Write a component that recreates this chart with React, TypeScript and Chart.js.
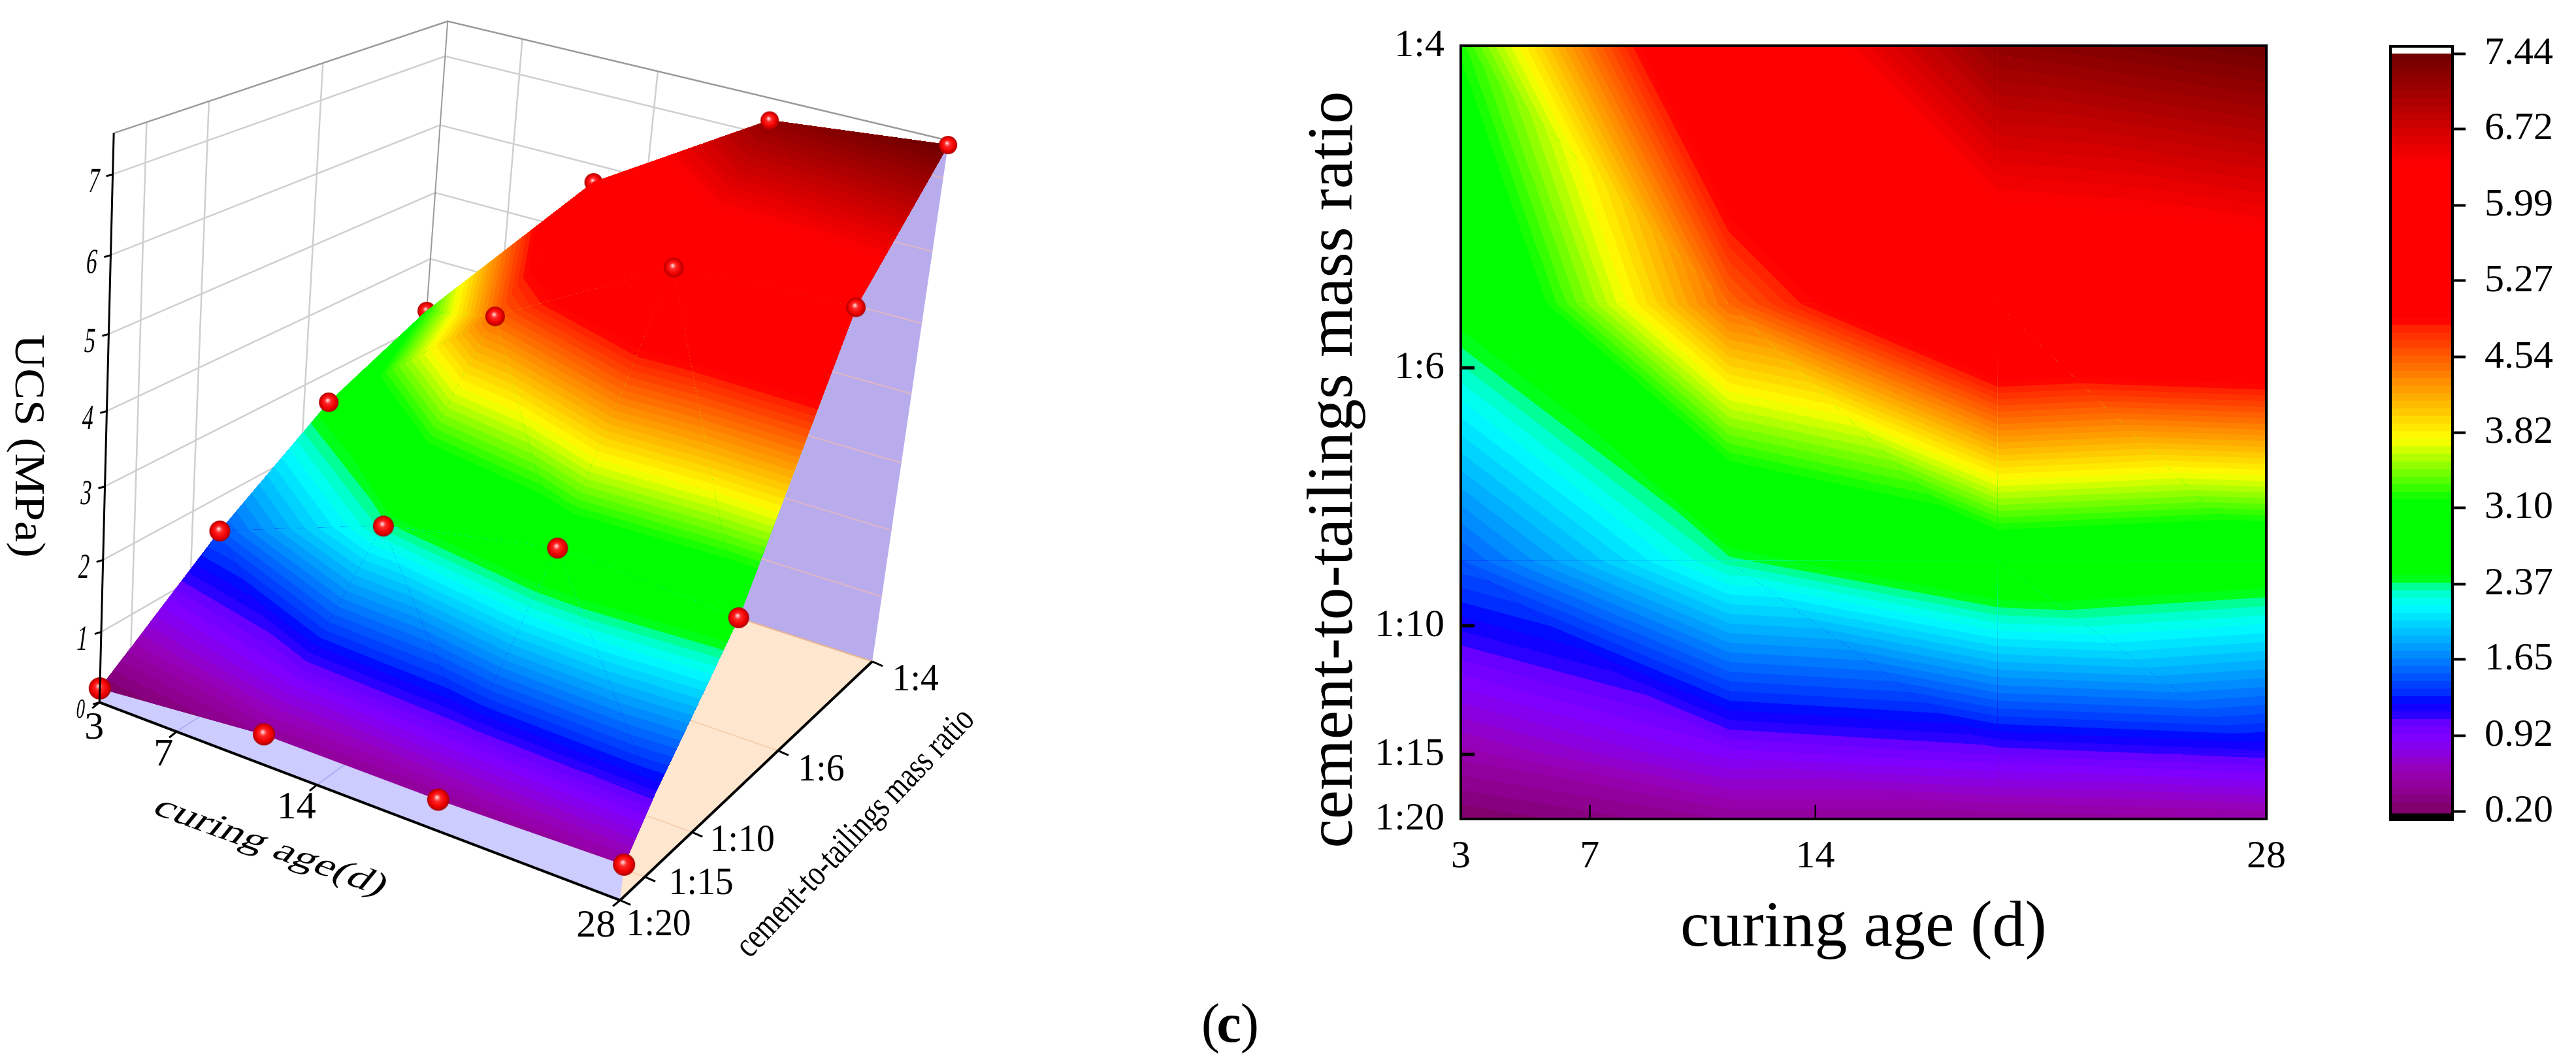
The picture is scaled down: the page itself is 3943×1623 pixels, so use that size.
import React, { useEffect, useRef } from "react";
import { Chart, registerables } from "chart.js";
Chart.register(...registerables);

const SERIF = "'Liberation Serif', serif";

// ---- data
const meshAges = [3, 11.33, 19.67, 28];
const meshRatios = [0.05, 0.0667, 0.1167, 0.1833, 0.25];
const ucs_1_20 = [0.2, 0.42, 0.42, 0.48];
const ucs_1_15 = [0.52, 0.88, 1.0, 1.1];
const ucs_r1 = [1.49, 2.33, 2.8, 2.66];
const ucs_r2 = [2.55, 4.48, 5.8, 5.92];
const ucs_1_4 = [3.2, 5.75, 7.2, 7.44];
const ucsRows = [ucs_1_20, ucs_1_15, ucs_r1, ucs_r2, ucs_1_4];
const markerRows = [0, 2, 3, 4];

const ageTicks = [3, 7, 14, 28];
const ageLabels = ["3", "7", "14", "28"];
const ratioTicks = [0.05, 0.0667, 0.1, 0.1667, 0.25];
const ratioLabels = ["1:20", "1:15", "1:10", "1:6", "1:4"];
const zTicks = [0, 1, 2, 3, 4, 5, 6, 7];
const barTicks = [0.2, 0.92, 1.65, 2.37, 3.1, 3.82, 4.54, 5.27, 5.99, 6.72, 7.44];

const LV0 = 0.2;
const LVSTEP = 0.0724;
const LVN = 100;
const colorStops: number[][] = [
  [0.2, 125, 0, 100], [0.36, 140, 0, 140], [0.56, 152, 0, 178], [0.88, 128, 0, 255], [1.06, 100, 0, 255],
  [1.08, 50, 0, 255], [1.23, 0, 0, 255], [1.3, 0, 40, 255], [1.65, 0, 130, 255], [2.15, 0, 255, 255],
  [2.28, 0, 255, 200], [2.36, 0, 255, 128], [2.42, 0, 255, 0], [3.15, 0, 255, 0], [3.75, 255, 255, 0],
  [4.3, 255, 140, 0], [4.82, 255, 30, 0], [4.88, 255, 0, 0], [6.36, 255, 0, 0], [7.44, 110, 0, 0],
];

function colorAt(v: number) {
  const s = colorStops;
  if (v <= s[0][0]) return `rgb(${s[0][1]},${s[0][2]},${s[0][3]})`;
  for (let i = 1; i < s.length; i++) {
    if (v <= s[i][0]) {
      const t = (v - s[i - 1][0]) / (s[i][0] - s[i - 1][0]);
      const c = [1, 2, 3].map((k) => Math.round(s[i - 1][k] + t * (s[i][k] - s[i - 1][k])));
      return `rgb(${c[0]},${c[1]},${c[2]})`;
    }
  }
  const l = s[s.length - 1];
  return `rgb(${l[1]},${l[2]},${l[3]})`;
}
const levelColor = (i: number) => colorAt(LV0 + (i + 0.5) * LVSTEP);

// ---- mesh triangles in data space, back rows first
type V = { a: number; r: number; z: number };
function meshTriangles(): V[][] {
  const out: V[][] = [];
  const P = (i: number, j: number): V => ({ a: meshAges[i], r: meshRatios[j], z: ucsRows[j][i] });
  for (let j = meshRatios.length - 2; j >= 0; j--) {
    for (let i = 0; i < meshAges.length - 1; i++) {
      out.push([P(i, j), P(i + 1, j), P(i, j + 1)]);
      out.push([P(i + 1, j), P(i + 1, j + 1), P(i, j + 1)]);
    }
  }
  return out;
}
function clipAbove(poly: V[], level: number): V[] {
  const out: V[] = [];
  for (let i = 0; i < poly.length; i++) {
    const p = poly[i];
    const q = poly[(i + 1) % poly.length];
    const pin = p.z >= level;
    const qin = q.z >= level;
    if (pin) out.push(p);
    if (pin !== qin) {
      const t = (level - p.z) / (q.z - p.z);
      out.push({ a: p.a + t * (q.a - p.a), r: p.r + t * (q.r - p.r), z: level });
    }
  }
  return out;
}
function paintBands(ctx: CanvasRenderingContext2D, map: (v: V) => number[]) {
  for (const tri of meshTriangles()) {
    const zs = tri.map((v) => v.z);
    const lo = Math.max(0, Math.floor((Math.min(...zs) - LV0) / LVSTEP));
    const hi = Math.min(LVN - 1, Math.floor((Math.max(...zs) - LV0) / LVSTEP));
    for (let i = lo; i <= hi; i++) {
      const poly = i === lo ? tri : clipAbove(tri, LV0 + i * LVSTEP);
      if (poly.length < 3) continue;
      ctx.beginPath();
      poly.forEach((v, k) => {
        const [x, y] = map(v);
        if (k === 0) ctx.moveTo(x, y);
        else ctx.lineTo(x, y);
      });
      ctx.closePath();
      const c = levelColor(i);
      ctx.fillStyle = c;
      ctx.strokeStyle = c;
      ctx.lineWidth = 1;
      ctx.fill();
      ctx.stroke();
    }
  }
}

// ---- 3D projection of the left panel
const ZMAX = 7.5;
const floorA = [148, 1077];
const floorB = [949, 1382];
const floorC = [1337, 1014];
const floorD = [629, 783];
const VP = [-96, 10790];
const VK = -0.0828;
const hom = (() => {
  const [x0, y0] = floorA, [x1, y1] = floorB, [x2, y2] = floorC, [x3, y3] = floorD;
  const dx1 = x1 - x2, dx2 = x3 - x2, sx = x0 - x1 + x2 - x3;
  const dy1 = y1 - y2, dy2 = y3 - y2, sy = y0 - y1 + y2 - y3;
  const den = dx1 * dy2 - dx2 * dy1;
  const g = (sx * dy2 - dx2 * sy) / den;
  const h = (dx1 * sy - sx * dy1) / den;
  return { a: x1 - x0 + g * x1, b: x3 - x0 + h * x3, c: x0, d: y1 - y0 + g * y1, e: y3 - y0 + h * y3, f: y0, g, h };
})();
function proj(u: number, v: number, z: number) {
  const t = (z / ZMAX) * VK;
  const X = hom.a * u + hom.b * v + hom.c + t * VP[0];
  const Y = hom.d * u + hom.e * v + hom.f + t * VP[1];
  const W = hom.g * u + hom.h * v + 1 + t;
  return [X / W, Y / W];
}
const uOf = (age: number) => (age - 3) / 25;
const vOf = (r: number) => (r - 0.05) / 0.2;
const markerPoints = (pick: (i: number, j: number) => boolean) => {
  const pts: { x: number; y: number; v: number }[] = [];
  markerRows.forEach((j) => {
    meshAges.forEach((a, i) => {
      if (!pick(i, j)) return;
      const v = vOf(meshRatios[j]);
      const [x, y] = proj(uOf(a), v, ucsRows[j][i]);
      pts.push({ x, y, v });
    });
  });
  return pts;
};

const sprites: Record<number, HTMLCanvasElement> = {};
function ball(r: number) {
  if (sprites[r]) return sprites[r];
  const c = document.createElement("canvas");
  c.width = c.height = r * 2 + 2;
  const g = c.getContext("2d")!;
  const m = r + 1;
  const gr = g.createRadialGradient(m - r * 0.12, m - r * 0.22, r * 0.04, m, m, r);
  gr.addColorStop(0, "#ffd8d8");
  gr.addColorStop(0.28, "#ff2a2a");
  gr.addColorStop(0.7, "#f00000");
  gr.addColorStop(1, "#a80000");
  g.fillStyle = gr;
  g.beginPath();
  g.arc(m, m, r, 0, Math.PI * 2);
  g.fill();
  sprites[r] = c;
  return c;
}

type TextOpt = { angle?: number; skew?: number; sx?: number; sy?: number; width?: number };
function drawText(ctx: CanvasRenderingContext2D, s: string, x: number, y: number, px: number, o: TextOpt = {}) {
  ctx.save();
  ctx.font = `${px}px ${SERIF}`;
  ctx.fillStyle = "#000";
  ctx.textAlign = "center";
  ctx.textBaseline = "middle";
  ctx.translate(x, y);
  ctx.rotate(((o.angle || 0) * Math.PI) / 180);
  ctx.transform(1, 0, o.skew || 0, 1, 0, 0);
  const sx = o.width ? o.width / ctx.measureText(s).width : o.sx || 1;
  ctx.scale(sx, o.sy || 1);
  ctx.fillText(s, 0, 0);
  ctx.restore();
}
function drawPanelTag(ctx: CanvasRenderingContext2D, x: number, y: number) {
  drawText(ctx, "(", x - 28, y, 85);
  ctx.save();
  ctx.font = `bold 85px ${SERIF}`;
  ctx.fillStyle = "#000";
  ctx.textAlign = "center";
  ctx.textBaseline = "middle";
  ctx.fillText("c", x, y);
  ctx.restore();
  drawText(ctx, ")", x + 32, y, 85);
}

const ageLabelOffsets = [[-8, 40], [-20, 36], [-31, 35], [-37, 40]];
const ratioLabelOffsets = [[59, 38], [86, 11], [77, 13], [66, 30], [66, 28]];

const surface3dPlugin = {
  id: "surface3d",
  beforeDatasetsDraw(chart: any) {
    const { ctx, scales } = chart;
    const px = (p: number[]) => [scales.x.getPixelForValue(p[0]), scales.y.getPixelForValue(p[1])];
    const P = (u: number, v: number, z: number) => px(proj(u, v, z));
    const path = (pts: number[][], close = false) => {
      ctx.beginPath();
      pts.forEach((p, i) => (i ? ctx.lineTo(p[0], p[1]) : ctx.moveTo(p[0], p[1])));
      if (close) ctx.closePath();
    };
    const seg = (a: number[], b: number[], col: string, lw: number) => {
      ctx.strokeStyle = col;
      ctx.lineWidth = lw;
      path([a, b]);
      ctx.stroke();
    };
    ctx.save();
    // walls
    const gridCol = "#cfcfcf";
    zTicks.slice(1).forEach((z) => {
      ctx.strokeStyle = gridCol;
      ctx.lineWidth = 2.5;
      path([P(0, 0, z), P(0, 1, z), P(1, 1, z)]);
      ctx.stroke();
    });
    ratioTicks.slice(1, 4).forEach((r) => seg(P(0, vOf(r), 0), P(0, vOf(r), ZMAX), gridCol, 2.5));
    ageTicks.slice(1, 3).forEach((a) => seg(P(uOf(a), 1, 0), P(uOf(a), 1, ZMAX), gridCol, 2.5));
    seg(P(0, 1, 0), P(0, 1, ZMAX), "#9a9a9a", 2);
    ctx.strokeStyle = "#9a9a9a";
    ctx.lineWidth = 2.5;
    path([P(0, 0, ZMAX), P(0, 1, ZMAX), P(1, 1, ZMAX)]);
    ctx.stroke();

    // floor
    ctx.fillStyle = "#ffe6cf";
    path([P(0, 0, 0), P(1, 0, 0), P(1, 1, 0), P(0, 1, 0)], true);
    ctx.fill();
    ratioTicks.slice(1, 4).forEach((r) => seg(P(0, vOf(r), 0), P(1, vOf(r), 0), "#f9cfae", 2));

    // back curtain
    const backEdge = meshAges.map((a, i) => P(uOf(a), 1, ucs_1_4[i]));
    const backPoly = [P(0, 1, 0), P(1, 1, 0), ...backEdge.slice().reverse()];
    ctx.fillStyle = "#b8aced";
    path(backPoly, true);
    ctx.fill();
    ctx.save();
    path(backPoly, true);
    ctx.clip();
    zTicks.slice(1).forEach((z) => seg(P(0, 1, z), P(1, 1, z), "#e0b6c4", 2));
    ctx.restore();
    seg(P(0, 1, 0), P(1, 1, 0), "#e9b48e", 2);

    // front curtain
    const frontEdge = meshAges.map((a, i) => P(uOf(a), 0, ucs_1_20[i]));
    const frontPoly = [P(0, 0, 0), P(1, 0, 0), ...frontEdge.slice().reverse()];
    ctx.fillStyle = "#ccccff";
    path(frontPoly, true);
    ctx.fill();
    ctx.save();
    path(frontPoly, true);
    ctx.clip();
    ageTicks.slice(1, 3).forEach((a) => seg(P(uOf(a), 0, 0), P(uOf(a), 0.3, 0), "#aeaef2", 2));
    ctx.restore();
    ctx.restore();
  },
  afterDatasetDraw(chart: any, args: any) {
    if (args.index !== 0) return;
    const { ctx, scales } = chart;
    ctx.save();
    paintBands(ctx, (v) => {
      const p = proj(uOf(v.a), vOf(v.r), v.z);
      return [scales.x.getPixelForValue(p[0]), scales.y.getPixelForValue(p[1])];
    });
    ctx.restore();
  },
  afterDraw(chart: any) {
    const { ctx, scales } = chart;
    const P = (u: number, v: number, z: number) => {
      const p = proj(u, v, z);
      return [scales.x.getPixelForValue(p[0]), scales.y.getPixelForValue(p[1])];
    };
    const seg = (a: number[], b: number[], lw: number) => {
      ctx.strokeStyle = "#000";
      ctx.lineWidth = lw;
      ctx.beginPath();
      ctx.moveTo(a[0], a[1]);
      ctx.lineTo(b[0], b[1]);
      ctx.stroke();
    };
    ctx.save();
    seg(P(0, 0, 0), P(1, 0, 0), 4);
    seg(P(1, 0, 0), P(1, 1, 0), 4);
    seg(P(0, 0, 0), P(0, 0, ZMAX), 3);
    zTicks.forEach((z) => {
      const p = P(0, 0, z);
      seg(p, [p[0] - 10, p[1] + 3], 3);
      drawText(ctx, String(z), p[0] - 29, p[1] + 13, z === 0 ? 42 : 54, { sx: 0.62, skew: -0.14 });
    });
    ageTicks.forEach((a, i) => {
      const p = P(uOf(a), 0, 0);
      seg(p, [p[0] - 11, p[1] + 9], 3);
      drawText(ctx, ageLabels[i], p[0] + ageLabelOffsets[i][0], p[1] + ageLabelOffsets[i][1], 60);
    });
    ratioTicks.forEach((r, i) => {
      const p = P(1, vOf(r), 0);
      seg(p, [p[0] + 16, p[1] + 7], 3);
      drawText(ctx, ratioLabels[i], p[0] + ratioLabelOffsets[i][0], p[1] + ratioLabelOffsets[i][1], 60, { sx: 0.93 });
    });
    drawText(ctx, "curing age(d)", 414, 1297, 60, { angle: 20, width: 372, skew: -0.35, sy: 0.85 });
    drawText(ctx, "cement-to-tailings mass ratio", 1310, 1276, 56, { angle: -46.5, width: 503 });
    drawText(ctx, "UCS (MPa)", 41, 683, 66, { angle: 90, width: 342 });
    drawPanelTag(ctx, 1881, 1573);
    ctx.restore();
  },
};

const contourPlugin = {
  id: "contour",
  beforeDatasetsDraw(chart: any) {
    const { ctx, scales, chartArea: ca } = chart;
    ctx.save();
    ctx.beginPath();
    ctx.rect(ca.left, ca.top, ca.right - ca.left, ca.bottom - ca.top);
    ctx.clip();
    paintBands(ctx, (v) => [scales.x.getPixelForValue(v.a), scales.y.getPixelForValue(v.r)]);
    ctx.restore();
  },
  afterDraw(chart: any) {
    const { ctx, scales, chartArea: ca } = chart;
    ctx.save();
    ctx.strokeStyle = "#000";
    ctx.lineWidth = 4;
    ctx.strokeRect(ca.left, ca.top, ca.right - ca.left, ca.bottom - ca.top);
    ctx.fillStyle = "#000";
    ratioTicks.slice(1, 4).forEach((r) => ctx.fillRect(ca.left, scales.y.getPixelForValue(r) - 2.5, 21, 5));
    ageTicks.slice(1, 3).forEach((a) => ctx.fillRect(scales.x.getPixelForValue(a) - 1, ca.bottom - 22, 2.5, 22));
    // the axis title sits off-centre in the reference, lower than the axis middle
    drawText(ctx, "cement-to-tailings mass ratio", 2043 - 1950, 719, 100, { angle: -90, width: 1159 });
    ctx.restore();
  },
};

const framePlugin = {
  id: "frame",
  afterDraw(chart: any) {
    const { ctx, chartArea: ca } = chart;
    ctx.save();
    ctx.strokeStyle = "#000";
    ctx.lineWidth = 4;
    ctx.strokeRect(ca.left, ca.top, ca.right - ca.left, ca.bottom - ca.top);
    ctx.restore();
  },
};

const base = { responsive: false, animation: false as const, events: [] as string[] };
const noPlugins = { legend: { display: false }, tooltip: { enabled: false }, title: { display: false } };

export default function App() {
  const c1 = useRef<HTMLCanvasElement>(null);
  const c2 = useRef<HTMLCanvasElement>(null);
  const c3 = useRef<HTMLCanvasElement>(null);

  useEffect(() => {
    document.body.style.margin = "0";
    document.body.style.background = "#fff";
    Chart.defaults.font.family = SERIF;
    Chart.defaults.color = "#000";

    const behind = (i: number, j: number) => j === 4 && i < 2;
    const ballStyle = (ctx: any) => ball(Math.round(17 - 3 * (ctx.raw?.v ?? 0)));
    const surface = new Chart(c1.current!, {
      type: "scatter",
      data: {
        datasets: [
          { label: "behind", order: 2, data: markerPoints(behind) as any, pointStyle: ballStyle as any },
          { label: "UCS", order: 1, data: markerPoints((i, j) => !behind(i, j)) as any, pointStyle: ballStyle as any },
        ],
      },
      options: {
        ...base,
        layout: { padding: 0 },
        plugins: noPlugins,
        scales: {
          x: { type: "linear", min: 0, max: 1950, display: false },
          y: { type: "linear", min: 0, max: 1623, reverse: true, display: false },
        },
      },
      plugins: [surface3dPlugin],
    });

    const meshPts: { x: number; y: number }[] = [];
    meshRatios.forEach((r) => meshAges.forEach((a) => meshPts.push({ x: a, y: r })));
    const contour = new Chart(c2.current!, {
      type: "scatter",
      data: { datasets: [{ label: "UCS", data: meshPts, pointRadius: 0 }] },
      options: {
        ...base,
        layout: { padding: { left: 29, top: 70, right: 91, bottom: 141 } },
        plugins: noPlugins,
        scales: {
          x: {
            type: "linear",
            min: 3,
            max: 28,
            grid: { display: false },
            border: { display: false },
            afterBuildTicks: (s: any) => { s.ticks = ageTicks.map((v) => ({ value: v })); },
            afterFit: (s: any) => { s.height = 228; s.paddingLeft = 0; s.paddingRight = 0; },
            ticks: {
              autoSkip: false, maxRotation: 0, padding: 14,
              font: { size: 60, family: SERIF },
              callback: (v: any) => ageLabels[ageTicks.indexOf(v)] ?? "",
            },
            title: { display: true, text: "curing age (d)", padding: 0, font: { size: 100, family: SERIF } },
          },
          y: {
            type: "linear",
            min: 0.05,
            max: 0.25,
            grid: { display: false },
            border: { display: false },
            afterBuildTicks: (s: any) => { s.ticks = ratioTicks.map((v) => ({ value: v })); },
            afterFit: (s: any) => { s.width = 257; s.paddingTop = 0; s.paddingBottom = 0; },
            ticks: {
              autoSkip: false, padding: 17,
              font: { size: 60, family: SERIF },
              callback: (v: any) => ratioLabels[ratioTicks.indexOf(v)] ?? "",
            },
          },
        },
      },
      plugins: [contourPlugin],
    });

    const bandData = Array.from({ length: LVN }, (_, i) => i);
    const bar = new Chart(c3.current!, {
      type: "bar",
      data: {
        labels: ["UCS"],
        datasets: [
          ...bandData.map((i) => ({
            label: `b${i}`,
            data: [[i === 0 ? 0.18 : LV0 + i * LVSTEP, LV0 + (i + 1) * LVSTEP + (i < LVN - 1 ? 0.01 : 0)]] as any,
            backgroundColor: levelColor(i),
            borderWidth: 0,
          })),
          { label: "below", data: [[0.119, 0.185]] as any, backgroundColor: "#000", borderWidth: 0 },
        ],
      },
      options: {
        ...base,
        layout: { padding: { left: 59, top: 71, right: 0, bottom: 368 } },
        plugins: noPlugins,
        datasets: { bar: { grouped: false, barPercentage: 1, categoryPercentage: 1 } },
        scales: {
          x: { display: false },
          y: {
            type: "linear",
            position: "right",
            min: 0.119,
            max: 7.51,
            border: { display: false },
            grid: { drawOnChartArea: false, drawTicks: true, tickLength: 20, tickWidth: 4, tickColor: "#000" },
            afterBuildTicks: (s: any) => { s.ticks = barTicks.map((v) => ({ value: v })); },
            afterFit: (s: any) => { s.width = 189; s.paddingTop = 0; s.paddingBottom = 0; },
            ticks: {
              autoSkip: false, padding: 29,
              font: { size: 60, family: SERIF },
              callback: (v: any) => Number(v).toFixed(2),
            },
          },
        },
      } as any,
      plugins: [framePlugin],
    });

    return () => {
      surface.destroy();
      contour.destroy();
      bar.destroy();
    };
  }, []);

  return (
    <div style={{ position: "relative", width: 3943, height: 1623, background: "#fff", overflow: "hidden" }}>
      <canvas ref={c1} width={1950} height={1623} style={{ position: "absolute", left: 0, top: 0 }} />
      <canvas ref={c2} width={1610} height={1623} style={{ position: "absolute", left: 1950, top: 0 }} />
      <canvas ref={c3} width={343} height={1623} style={{ position: "absolute", left: 3600, top: 0 }} />
    </div>
  );
}
